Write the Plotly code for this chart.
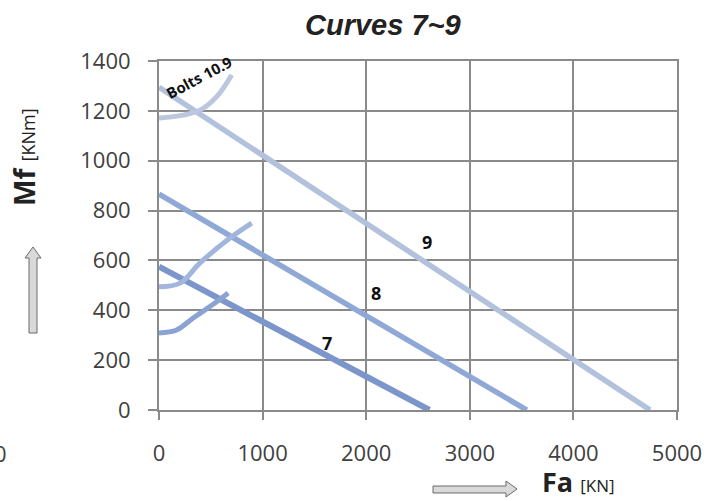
import plotly.graph_objects as go

# ---- data ----
fa_7 = [0, 2610]
mf_7 = [575, 0]
fa_8 = [0, 3550]
mf_8 = [866, 0]
fa_9 = [0, 4740]
mf_9 = [1295, 0]

bolt7_fa = [0, 170, 330, 557, 668]
bolt7_mf = [309, 321, 369, 434, 469]
bolt8_fa = [0, 203, 396, 685, 895]
bolt8_mf = [494, 509, 590, 690, 750]
bolt9_fa = [0, 232, 396, 557, 702]
bolt9_mf = [1171, 1183, 1203, 1257, 1344]

curve_labels = ["7", "8", "9"]
label_fa = [1619, 2095, 2584]
label_mf = [267, 468, 674]

x_ticks = [0, 1000, 2000, 3000, 4000, 5000]
y_ticks = [0, 200, 400, 600, 800, 1000, 1200, 1400]

# ---- layout geometry (pixels) ----
W, H = 716, 501
L, R, T, B = 159, 39, 61, 91
PW, PH = W - L - R, H - T - B


def px2paper(px, py):
    return (px - L) / PW, 1 - (py - T) / PH


def path(points):
    s = ""
    for i, (px, py) in enumerate(points):
        x, y = px2paper(px, py)
        s += ("M" if i == 0 else "L") + f"{x:.5f},{y:.5f} "
    return s + "Z"


fig = go.Figure()

line_specs = [
    (fa_9, mf_9, "#b3c2dc", 5.5),
    (fa_8, mf_8, "#8fa8d6", 5.5),
    (fa_7, mf_7, "#7c96cb", 6),
]
for xs, ys, col, w in line_specs:
    fig.add_trace(go.Scatter(x=xs, y=ys, mode="lines",
                             line=dict(color=col, width=w),
                             showlegend=False, hoverinfo="skip"))

bolt_specs = [
    (bolt9_fa, bolt9_mf, "#bac7de"),
    (bolt8_fa, bolt8_mf, "#a2b6dd"),
    (bolt7_fa, bolt7_mf, "#8aa3d3"),
]
for xs, ys, col in bolt_specs:
    fig.add_trace(go.Scatter(x=xs, y=ys, mode="lines",
                             line=dict(color=col, width=5, shape="spline", smoothing=1.0),
                             showlegend=False, hoverinfo="skip"))

grid_col = "#8a8a8a"
tick_font = dict(family="Open Sans", size=22, color="#404040")

fig.update_xaxes(range=[0, 5000], tickvals=x_ticks, showgrid=True,
                 gridcolor=grid_col, gridwidth=2, zeroline=False,
                 showline=True, linecolor=grid_col, linewidth=2, mirror=True,
                 ticks="outside", ticklen=8, tickwidth=2, tickcolor=grid_col,
                 tickfont=tick_font, ticklabelstandoff=15)
fig.update_yaxes(range=[0, 1400], tickvals=y_ticks, showgrid=True,
                 gridcolor=grid_col, gridwidth=2, zeroline=False,
                 showline=True, linecolor=grid_col, linewidth=2, mirror=True,
                 ticks="outside", ticklen=9, tickwidth=2, tickcolor=grid_col,
                 tickfont=tick_font, ticklabelstandoff=13)

annotations = []
for t, x, y in zip(curve_labels, label_fa, label_mf):
    annotations.append(dict(x=x, y=y, xref="x", yref="y", text=f"<b>{t}</b>",
                            showarrow=False,
                            font=dict(family="Open Sans", size=18, color="#111111")))

annotations.append(dict(x=390, y=1335, xref="x", yref="y", text="<b>Bolts 10.9</b>",
                        showarrow=False, textangle=-28,
                        font=dict(family="Open Sans", size=15, color="#111111")))

# title
tx, ty = px2paper(383, 25)
annotations.append(dict(x=tx, y=ty, xref="paper", yref="paper",
                        text="<b><i>Curves 7~9</i></b>", showarrow=False,
                        xanchor="center", yanchor="middle",
                        font=dict(family="Liberation Sans", size=29, color="#222222")))

# y axis label
mx, my = px2paper(24, 157)
annotations.append(dict(x=mx, y=my, xref="paper", yref="paper", textangle=-90,
                        text="<b>Mf</b> <span style='font-size:18px'>[KNm]</span>",
                        showarrow=False, xanchor="center", yanchor="middle",
                        font=dict(family="Open Sans", size=28, color="#222222")))

# x axis label
fx, fy = px2paper(578, 481)
annotations.append(dict(x=fx, y=fy, xref="paper", yref="paper",
                        text="<b>Fa</b> <span style='font-size:17px'>[KN]</span>",
                        showarrow=False, xanchor="center", yanchor="middle",
                        font=dict(family="Open Sans", size=27, color="#222222")))

# stray clipped zero at left edge
zx, zy = px2paper(9, 453)
annotations.append(dict(x=zx, y=zy, xref="paper", yref="paper", text="0",
                        showarrow=False, xanchor="right", yanchor="middle",
                        font=tick_font))

shapes = [
    dict(type="path", xref="paper", yref="paper",
         path=path([(29, 333), (29, 258), (25, 258), (33, 247), (41, 258), (37, 258), (37, 333)]),
         fillcolor="#d9d9d9", line=dict(color="#6a6a6a", width=1)),
    dict(type="path", xref="paper", yref="paper",
         path=path([(433, 486), (506, 486), (506, 481), (517, 489), (506, 497), (506, 493), (433, 493)]),
         fillcolor="#d9d9d9", line=dict(color="#6a6a6a", width=1)),
]

fig.update_layout(width=W, height=H,
                  margin=dict(l=L, r=R, t=T, b=B),
                  paper_bgcolor="white", plot_bgcolor="white",
                  annotations=annotations, shapes=shapes,
                  showlegend=False)

fig.write_html("out.html",
               config={"displayModeBar": False},
               post_script="document.body.style.margin='0';"
                           "document.body.style.overflow='hidden';")
